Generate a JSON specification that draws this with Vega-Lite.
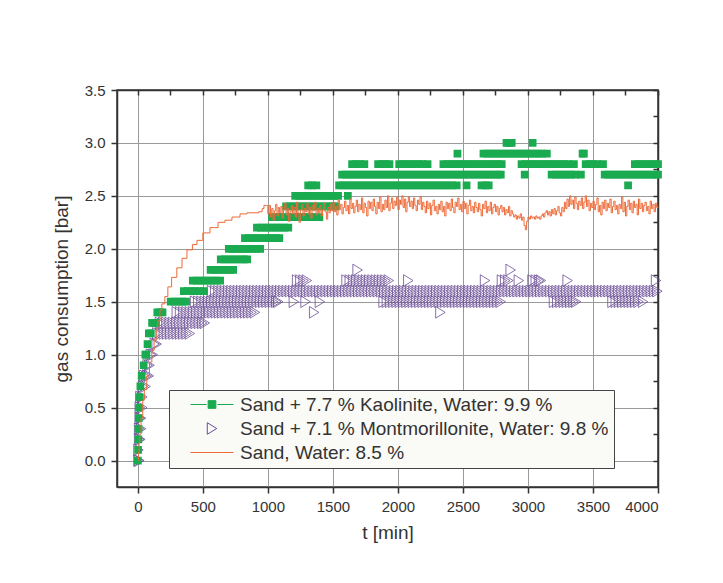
{
"$schema": "https://vega.github.io/schema/vega-lite/v6.json",
"width": 541, "height": 397,
"autosize": {"type": "none"},
"padding": {"left": 117, "top": 90, "right": 65, "bottom": 96},
"background": "white",
"config": {
  "font": "Liberation Sans",
  "view": {"stroke": "#333333", "strokeWidth": 1.5},
  "axis": {"labelFont": "Liberation Sans", "titleFont": "Liberation Sans", "labelColor": "#333333", "titleColor": "#333333", "titleFontWeight": "normal"}
},
"datasets": {
"K": [
{"t":0,"v":0},{"t":2,"v":0.1},{"t":4,"v":0.2},{"t":5,"v":0.3},{"t":7,"v":0.4},{"t":9,"v":0.5},{"t":13,"v":0.6},{"t":20,"v":0.7},{"t":30,"v":0.8},{"t":45,"v":0.9},{"t":58,"v":1.0},{"t":66,"v":1.0},{"t":75,"v":1.1},{"t":85,"v":1.2},{"t":100,"v":1.2},{"t":110,"v":1.3},{"t":125,"v":1.3},{"t":140,"v":1.3},{"t":150,"v":1.4},{"t":170,"v":1.4},{"t":190,"v":1.4},
{"t":253,"v":1.5},{"t":283,"v":1.5},{"t":313,"v":1.5},{"t":343,"v":1.5},{"t":371,"v":1.5},
{"t":354,"v":1.6},{"t":384,"v":1.6},{"t":414,"v":1.6},{"t":444,"v":1.6},{"t":474,"v":1.6},{"t":509,"v":1.6},
{"t":423,"v":1.7},{"t":453,"v":1.7},{"t":483,"v":1.7},{"t":513,"v":1.7},{"t":543,"v":1.7},{"t":573,"v":1.7},{"t":603,"v":1.7},{"t":633,"v":1.7},
{"t":560,"v":1.8},{"t":590,"v":1.8},{"t":620,"v":1.8},{"t":650,"v":1.8},{"t":680,"v":1.8},{"t":710,"v":1.8},{"t":733,"v":1.8},
{"t":638,"v":1.9},{"t":668,"v":1.9},{"t":698,"v":1.9},{"t":728,"v":1.9},{"t":758,"v":1.9},{"t":788,"v":1.9},{"t":818,"v":1.9},{"t":841,"v":1.9},
{"t":700,"v":2.0},{"t":730,"v":2.0},{"t":760,"v":2.0},{"t":790,"v":2.0},{"t":820,"v":2.0},{"t":850,"v":2.0},{"t":880,"v":2.0},{"t":910,"v":2.0},{"t":941,"v":2.0},
{"t":824,"v":2.1},{"t":854,"v":2.1},{"t":884,"v":2.1},{"t":914,"v":2.1},{"t":944,"v":2.1},{"t":974,"v":2.1},{"t":1004,"v":2.1},{"t":1034,"v":2.1},{"t":1064,"v":2.1},{"t":1088,"v":2.1},
{"t":916,"v":2.2},{"t":946,"v":2.2},{"t":976,"v":2.2},{"t":1006,"v":2.2},{"t":1036,"v":2.2},{"t":1066,"v":2.2},{"t":1096,"v":2.2},{"t":1126,"v":2.2},{"t":1157,"v":2.2},
{"t":1032,"v":2.3},{"t":1062,"v":2.3},{"t":1092,"v":2.3},{"t":1122,"v":2.3},{"t":1152,"v":2.3},{"t":1182,"v":2.3},{"t":1212,"v":2.3},{"t":1242,"v":2.3},{"t":1272,"v":2.3},{"t":1302,"v":2.3},{"t":1332,"v":2.3},{"t":1362,"v":2.3},{"t":1396,"v":2.3},
{"t":1140,"v":2.4},{"t":1170,"v":2.4},{"t":1200,"v":2.4},{"t":1230,"v":2.4},{"t":1260,"v":2.4},{"t":1290,"v":2.4},{"t":1320,"v":2.4},{"t":1350,"v":2.4},{"t":1380,"v":2.4},{"t":1410,"v":2.4},{"t":1440,"v":2.4},{"t":1470,"v":2.4},{"t":1500,"v":2.4},{"t":1520,"v":2.4},
{"t":1210,"v":2.5},{"t":1240,"v":2.5},{"t":1270,"v":2.5},{"t":1300,"v":2.5},{"t":1330,"v":2.5},{"t":1360,"v":2.5},{"t":1390,"v":2.5},{"t":1420,"v":2.5},{"t":1450,"v":2.5},{"t":1480,"v":2.5},{"t":1510,"v":2.5},{"t":1540,"v":2.5},{"t":1615,"v":2.5},
{"t":1310,"v":2.6},{"t":1340,"v":2.6},{"t":1373,"v":2.6},
{"t":1548,"v":2.6},{"t":1578,"v":2.6},{"t":1608,"v":2.6},{"t":1638,"v":2.6},{"t":1668,"v":2.6},{"t":1698,"v":2.6},{"t":1728,"v":2.6},{"t":1758,"v":2.6},{"t":1788,"v":2.6},{"t":1818,"v":2.6},{"t":1848,"v":2.6},{"t":1878,"v":2.6},{"t":1908,"v":2.6},{"t":1938,"v":2.6},{"t":1968,"v":2.6},{"t":1998,"v":2.6},{"t":2028,"v":2.6},{"t":2058,"v":2.6},{"t":2088,"v":2.6},{"t":2118,"v":2.6},{"t":2148,"v":2.6},{"t":2178,"v":2.6},{"t":2208,"v":2.6},{"t":2238,"v":2.6},{"t":2268,"v":2.6},{"t":2298,"v":2.6},{"t":2328,"v":2.6},{"t":2358,"v":2.6},{"t":2388,"v":2.6},{"t":2418,"v":2.6},{"t":2452,"v":2.6},
{"t":2528,"v":2.6},{"t":2643,"v":2.6},{"t":2673,"v":2.6},{"t":2698,"v":2.6},{"t":3770,"v":2.6},
{"t":1571,"v":2.7},{"t":1601,"v":2.7},{"t":1631,"v":2.7},{"t":1661,"v":2.7},{"t":1691,"v":2.7},{"t":1721,"v":2.7},{"t":1751,"v":2.7},{"t":1781,"v":2.7},{"t":1811,"v":2.7},{"t":1841,"v":2.7},{"t":1871,"v":2.7},{"t":1901,"v":2.7},{"t":1931,"v":2.7},{"t":1961,"v":2.7},{"t":1991,"v":2.7},{"t":2021,"v":2.7},{"t":2051,"v":2.7},{"t":2081,"v":2.7},{"t":2111,"v":2.7},{"t":2141,"v":2.7},{"t":2171,"v":2.7},{"t":2201,"v":2.7},{"t":2231,"v":2.7},{"t":2261,"v":2.7},{"t":2291,"v":2.7},{"t":2321,"v":2.7},{"t":2351,"v":2.7},{"t":2381,"v":2.7},{"t":2411,"v":2.7},{"t":2441,"v":2.7},{"t":2471,"v":2.7},{"t":2501,"v":2.7},{"t":2531,"v":2.7},{"t":2561,"v":2.7},{"t":2591,"v":2.7},{"t":2621,"v":2.7},{"t":2651,"v":2.7},{"t":2681,"v":2.7},{"t":2711,"v":2.7},{"t":2741,"v":2.7},{"t":2771,"v":2.7},{"t":2791,"v":2.7},
{"t":2975,"v":2.7},{"t":3182,"v":2.7},{"t":3212,"v":2.7},{"t":3242,"v":2.7},{"t":3272,"v":2.7},{"t":3302,"v":2.7},{"t":3332,"v":2.7},{"t":3362,"v":2.7},{"t":3407,"v":2.7},
{"t":3590,"v":2.7},{"t":3620,"v":2.7},{"t":3650,"v":2.7},{"t":3680,"v":2.7},{"t":3710,"v":2.7},{"t":3740,"v":2.7},{"t":3770,"v":2.7},{"t":3800,"v":2.7},{"t":3830,"v":2.7},{"t":3860,"v":2.7},{"t":3890,"v":2.7},{"t":3920,"v":2.7},{"t":3950,"v":2.7},{"t":3980,"v":2.7},{"t":4000,"v":2.7},
{"t":1648,"v":2.8},{"t":1678,"v":2.8},{"t":1708,"v":2.8},{"t":1742,"v":2.8},{"t":1848,"v":2.8},{"t":1878,"v":2.8},{"t":1908,"v":2.8},{"t":1935,"v":2.8},
{"t":2010,"v":2.8},{"t":2040,"v":2.8},{"t":2070,"v":2.8},{"t":2100,"v":2.8},{"t":2130,"v":2.8},{"t":2160,"v":2.8},{"t":2190,"v":2.8},{"t":2228,"v":2.8},
{"t":2350,"v":2.8},{"t":2380,"v":2.8},{"t":2410,"v":2.8},{"t":2440,"v":2.8},{"t":2470,"v":2.8},{"t":2500,"v":2.8},{"t":2530,"v":2.8},{"t":2560,"v":2.8},{"t":2590,"v":2.8},{"t":2620,"v":2.8},{"t":2650,"v":2.8},{"t":2680,"v":2.8},{"t":2710,"v":2.8},{"t":2740,"v":2.8},{"t":2770,"v":2.8},{"t":2798,"v":2.8},
{"t":2951,"v":2.8},{"t":2981,"v":2.8},{"t":3011,"v":2.8},{"t":3041,"v":2.8},{"t":3071,"v":2.8},{"t":3101,"v":2.8},{"t":3131,"v":2.8},{"t":3161,"v":2.8},{"t":3191,"v":2.8},{"t":3221,"v":2.8},{"t":3251,"v":2.8},{"t":3281,"v":2.8},{"t":3311,"v":2.8},{"t":3353,"v":2.8},
{"t":3444,"v":2.8},{"t":3474,"v":2.8},{"t":3504,"v":2.8},{"t":3534,"v":2.8},{"t":3577,"v":2.8},
{"t":3822,"v":2.8},{"t":3852,"v":2.8},{"t":3882,"v":2.8},{"t":3912,"v":2.8},{"t":3942,"v":2.8},{"t":3972,"v":2.8},{"t":4000,"v":2.8},
{"t":2458,"v":2.9},{"t":2658,"v":2.9},{"t":2688,"v":2.9},{"t":2718,"v":2.9},{"t":2748,"v":2.9},{"t":2778,"v":2.9},{"t":2808,"v":2.9},{"t":2838,"v":2.9},{"t":2868,"v":2.9},{"t":2898,"v":2.9},{"t":2928,"v":2.9},{"t":2958,"v":2.9},{"t":2988,"v":2.9},{"t":3018,"v":2.9},{"t":3048,"v":2.9},{"t":3078,"v":2.9},{"t":3108,"v":2.9},{"t":3145,"v":2.9},{"t":3420,"v":2.9},{"t":3430,"v":2.9},
{"t":2835,"v":3.0},{"t":2855,"v":3.0},{"t":2875,"v":3.0},{"t":3036,"v":3.0}
],
"M": [
{"t":5,"v":0},{"t":12,"v":0},{"t":5,"v":0.1},{"t":10,"v":0.2},{"t":20,"v":0.2},{"t":10,"v":0.3},{"t":25,"v":0.3},{"t":15,"v":0.4},{"t":25,"v":0.4},{"t":15,"v":0.5},{"t":35,"v":0.5},{"t":20,"v":0.6},{"t":35,"v":0.6},{"t":40,"v":0.7},{"t":60,"v":0.7},{"t":50,"v":0.8},{"t":70,"v":0.8},{"t":85,"v":0.8},{"t":75,"v":0.9},{"t":90,"v":0.9},{"t":100,"v":1.0},{"t":115,"v":1.0},{"t":130,"v":1.1},{"t":145,"v":1.1},
{"t":150,"v":1.2},{"t":175,"v":1.2},{"t":200,"v":1.2},{"t":225,"v":1.2},{"t":250,"v":1.2},{"t":275,"v":1.2},{"t":300,"v":1.2},{"t":325,"v":1.2},{"t":350,"v":1.2},{"t":375,"v":1.2},{"t":400,"v":1.2},
{"t":170,"v":1.3},{"t":195,"v":1.3},{"t":220,"v":1.3},{"t":245,"v":1.3},{"t":270,"v":1.3},{"t":295,"v":1.3},{"t":320,"v":1.3},{"t":345,"v":1.3},{"t":370,"v":1.3},{"t":395,"v":1.3},{"t":420,"v":1.3},{"t":445,"v":1.3},{"t":470,"v":1.3},{"t":495,"v":1.3},{"t":515,"v":1.3},
{"t":300,"v":1.4},{"t":325,"v":1.4},{"t":350,"v":1.4},{"t":375,"v":1.4},{"t":400,"v":1.4},{"t":425,"v":1.4},{"t":450,"v":1.4},{"t":475,"v":1.4},{"t":500,"v":1.4},{"t":525,"v":1.4},{"t":550,"v":1.4},{"t":575,"v":1.4},{"t":600,"v":1.4},{"t":625,"v":1.4},{"t":650,"v":1.4},{"t":675,"v":1.4},{"t":700,"v":1.4},{"t":725,"v":1.4},{"t":750,"v":1.4},{"t":775,"v":1.4},{"t":800,"v":1.4},{"t":825,"v":1.4},{"t":850,"v":1.4},{"t":875,"v":1.4},{"t":900,"v":1.4},{"t":1356,"v":1.4},{"t":2327,"v":1.4},
{"t":440,"v":1.5},{"t":465,"v":1.5},{"t":490,"v":1.5},{"t":515,"v":1.5},{"t":540,"v":1.5},{"t":565,"v":1.5},{"t":590,"v":1.5},{"t":615,"v":1.5},{"t":640,"v":1.5},{"t":665,"v":1.5},{"t":690,"v":1.5},{"t":715,"v":1.5},{"t":740,"v":1.5},{"t":765,"v":1.5},{"t":790,"v":1.5},{"t":815,"v":1.5},{"t":840,"v":1.5},{"t":865,"v":1.5},{"t":890,"v":1.5},{"t":915,"v":1.5},{"t":940,"v":1.5},{"t":965,"v":1.5},{"t":990,"v":1.5},{"t":1015,"v":1.5},{"t":1040,"v":1.5},{"t":1065,"v":1.5},{"t":1080,"v":1.5},
{"t":1200,"v":1.5},{"t":1290,"v":1.5},{"t":1400,"v":1.5},
{"t":1890,"v":1.5},{"t":1915,"v":1.5},{"t":1940,"v":1.5},{"t":1965,"v":1.5},{"t":1990,"v":1.5},{"t":2015,"v":1.5},{"t":2040,"v":1.5},{"t":2065,"v":1.5},{"t":2090,"v":1.5},{"t":2115,"v":1.5},{"t":2140,"v":1.5},{"t":2165,"v":1.5},{"t":2190,"v":1.5},{"t":2215,"v":1.5},{"t":2240,"v":1.5},{"t":2265,"v":1.5},{"t":2290,"v":1.5},{"t":2315,"v":1.5},{"t":2340,"v":1.5},{"t":2365,"v":1.5},{"t":2390,"v":1.5},{"t":2415,"v":1.5},{"t":2440,"v":1.5},{"t":2465,"v":1.5},{"t":2490,"v":1.5},{"t":2515,"v":1.5},{"t":2540,"v":1.5},{"t":2565,"v":1.5},{"t":2590,"v":1.5},{"t":2615,"v":1.5},{"t":2640,"v":1.5},{"t":2665,"v":1.5},{"t":2690,"v":1.5},{"t":2715,"v":1.5},{"t":2740,"v":1.5},{"t":2765,"v":1.5},{"t":2790,"v":1.5},
{"t":3200,"v":1.5},{"t":3225,"v":1.5},{"t":3250,"v":1.5},{"t":3275,"v":1.5},{"t":3300,"v":1.5},{"t":3325,"v":1.5},{"t":3350,"v":1.5},{"t":3370,"v":1.5},
{"t":3650,"v":1.5},{"t":3675,"v":1.5},{"t":3700,"v":1.5},{"t":3725,"v":1.5},{"t":3750,"v":1.5},{"t":3775,"v":1.5},{"t":3800,"v":1.5},{"t":3825,"v":1.5},{"t":3850,"v":1.5},{"t":3885,"v":1.5},
{"t":570,"v":1.6},{"t":595,"v":1.6},{"t":620,"v":1.6},{"t":645,"v":1.6},{"t":670,"v":1.6},{"t":695,"v":1.6},{"t":720,"v":1.6},{"t":745,"v":1.6},{"t":770,"v":1.6},{"t":795,"v":1.6},{"t":820,"v":1.6},{"t":845,"v":1.6},{"t":870,"v":1.6},{"t":895,"v":1.6},{"t":920,"v":1.6},{"t":945,"v":1.6},{"t":970,"v":1.6},{"t":995,"v":1.6},
{"t":1020,"v":1.6},{"t":1045,"v":1.6},{"t":1070,"v":1.6},{"t":1095,"v":1.6},{"t":1120,"v":1.6},{"t":1145,"v":1.6},{"t":1170,"v":1.6},{"t":1195,"v":1.6},{"t":1220,"v":1.6},{"t":1245,"v":1.6},{"t":1270,"v":1.6},{"t":1295,"v":1.6},{"t":1320,"v":1.6},{"t":1345,"v":1.6},{"t":1370,"v":1.6},{"t":1395,"v":1.6},{"t":1420,"v":1.6},{"t":1445,"v":1.6},{"t":1470,"v":1.6},{"t":1495,"v":1.6},
{"t":1520,"v":1.6},{"t":1545,"v":1.6},{"t":1570,"v":1.6},{"t":1595,"v":1.6},{"t":1620,"v":1.6},{"t":1645,"v":1.6},{"t":1670,"v":1.6},{"t":1695,"v":1.6},{"t":1720,"v":1.6},{"t":1745,"v":1.6},{"t":1770,"v":1.6},{"t":1795,"v":1.6},{"t":1820,"v":1.6},{"t":1845,"v":1.6},{"t":1870,"v":1.6},{"t":1895,"v":1.6},{"t":1920,"v":1.6},{"t":1945,"v":1.6},{"t":1970,"v":1.6},{"t":1995,"v":1.6},
{"t":2020,"v":1.6},{"t":2045,"v":1.6},{"t":2070,"v":1.6},{"t":2095,"v":1.6},{"t":2120,"v":1.6},{"t":2145,"v":1.6},{"t":2170,"v":1.6},{"t":2195,"v":1.6},{"t":2220,"v":1.6},{"t":2245,"v":1.6},{"t":2270,"v":1.6},{"t":2295,"v":1.6},{"t":2320,"v":1.6},{"t":2345,"v":1.6},{"t":2370,"v":1.6},{"t":2395,"v":1.6},{"t":2420,"v":1.6},{"t":2445,"v":1.6},{"t":2470,"v":1.6},{"t":2495,"v":1.6},
{"t":2520,"v":1.6},{"t":2545,"v":1.6},{"t":2570,"v":1.6},{"t":2595,"v":1.6},{"t":2620,"v":1.6},{"t":2645,"v":1.6},{"t":2670,"v":1.6},{"t":2695,"v":1.6},{"t":2720,"v":1.6},{"t":2745,"v":1.6},{"t":2770,"v":1.6},{"t":2795,"v":1.6},{"t":2820,"v":1.6},{"t":2845,"v":1.6},{"t":2870,"v":1.6},{"t":2895,"v":1.6},{"t":2920,"v":1.6},{"t":2945,"v":1.6},{"t":2970,"v":1.6},{"t":2995,"v":1.6},
{"t":3020,"v":1.6},{"t":3045,"v":1.6},{"t":3070,"v":1.6},{"t":3095,"v":1.6},{"t":3120,"v":1.6},{"t":3145,"v":1.6},{"t":3170,"v":1.6},{"t":3195,"v":1.6},{"t":3220,"v":1.6},{"t":3245,"v":1.6},{"t":3270,"v":1.6},{"t":3295,"v":1.6},{"t":3320,"v":1.6},{"t":3345,"v":1.6},{"t":3370,"v":1.6},{"t":3395,"v":1.6},{"t":3420,"v":1.6},{"t":3445,"v":1.6},{"t":3470,"v":1.6},{"t":3495,"v":1.6},
{"t":3520,"v":1.6},{"t":3545,"v":1.6},{"t":3570,"v":1.6},{"t":3595,"v":1.6},{"t":3620,"v":1.6},{"t":3645,"v":1.6},{"t":3670,"v":1.6},{"t":3695,"v":1.6},{"t":3720,"v":1.6},{"t":3745,"v":1.6},{"t":3770,"v":1.6},{"t":3795,"v":1.6},{"t":3820,"v":1.6},{"t":3845,"v":1.6},{"t":3870,"v":1.6},{"t":3895,"v":1.6},{"t":3920,"v":1.6},{"t":3945,"v":1.6},{"t":3970,"v":1.6},{"t":3995,"v":1.6},
{"t":1225,"v":1.7},{"t":1250,"v":1.7},{"t":1275,"v":1.7},{"t":1300,"v":1.7},
{"t":1605,"v":1.7},{"t":1630,"v":1.7},{"t":1655,"v":1.7},{"t":1680,"v":1.7},{"t":1705,"v":1.7},{"t":1730,"v":1.7},{"t":1755,"v":1.7},{"t":1780,"v":1.7},{"t":1805,"v":1.7},{"t":1830,"v":1.7},{"t":1855,"v":1.7},{"t":1880,"v":1.7},{"t":1905,"v":1.7},{"t":1930,"v":1.7},
{"t":2080,"v":1.7},{"t":2670,"v":1.7},{"t":2800,"v":1.7},{"t":2825,"v":1.7},{"t":2850,"v":1.7},{"t":2930,"v":1.7},{"t":3035,"v":1.7},{"t":3060,"v":1.7},{"t":3085,"v":1.7},{"t":3100,"v":1.7},{"t":3305,"v":1.7},{"t":3985,"v":1.7},
{"t":1690,"v":1.8},{"t":2867,"v":1.8}
],
"S": [
{"t":0,"v":0},{"t":5,"v":0.08},{"t":10,"v":0.17},{"t":15,"v":0.25},{"t":25,"v":0.4},{"t":38,"v":0.57},{"t":50,"v":0.67},{"t":69,"v":0.8},{"t":90,"v":0.93},{"t":108,"v":1.04},{"t":125,"v":1.14},{"t":146,"v":1.24},{"t":154,"v":1.32},{"t":170,"v":1.42},{"t":185,"v":1.48},{"t":208,"v":1.55},{"t":231,"v":1.64},{"t":260,"v":1.73},{"t":300,"v":1.82},{"t":340,"v":1.91},{"t":378,"v":1.99},{"t":420,"v":2.04},{"t":455,"v":2.08},{"t":500,"v":2.15},{"t":555,"v":2.2},{"t":617,"v":2.25},{"t":670,"v":2.27},{"t":724,"v":2.3},{"t":786,"v":2.33},{"t":840,"v":2.34},{"t":886,"v":2.34},{"t":930,"v":2.35},{"t":956,"v":2.38},{"t":970,"v":2.41},{"t":990,"v":2.41},
{"t":1000,"v":2.33},{"t":1010,"v":2.41},{"t":1020,"v":2.30},{"t":1030,"v":2.38},{"t":1040,"v":2.27},{"t":1050,"v":2.36},{"t":1060,"v":2.42},{"t":1070,"v":2.31},{"t":1080,"v":2.39},{"t":1090,"v":2.34},
{"t":1100,"v":2.40},{"t":1110,"v":2.29},{"t":1120,"v":2.37},{"t":1130,"v":2.43},{"t":1140,"v":2.32},{"t":1150,"v":2.38},{"t":1160,"v":2.26},{"t":1170,"v":2.35},{"t":1180,"v":2.41},{"t":1190,"v":2.33},
{"t":1200,"v":2.39},{"t":1210,"v":2.30},{"t":1220,"v":2.44},{"t":1230,"v":2.34},{"t":1240,"v":2.25},{"t":1250,"v":2.37},{"t":1260,"v":2.42},{"t":1270,"v":2.31},{"t":1280,"v":2.38},{"t":1290,"v":2.35},
{"t":1300,"v":2.43},{"t":1310,"v":2.33},{"t":1320,"v":2.39},{"t":1330,"v":2.29},{"t":1340,"v":2.41},{"t":1350,"v":2.36},{"t":1360,"v":2.44},{"t":1370,"v":2.32},{"t":1380,"v":2.38},{"t":1390,"v":2.34},
{"t":1400,"v":2.41},{"t":1410,"v":2.31},{"t":1420,"v":2.37},{"t":1430,"v":2.43},{"t":1440,"v":2.35},{"t":1450,"v":2.28},{"t":1460,"v":2.39},{"t":1470,"v":2.34},{"t":1480,"v":2.42},{"t":1490,"v":2.36},
{"t":1500,"v":2.44},{"t":1510,"v":2.35},{"t":1520,"v":2.40},{"t":1530,"v":2.32},{"t":1540,"v":2.46},{"t":1550,"v":2.37},{"t":1560,"v":2.42},{"t":1570,"v":2.33},{"t":1580,"v":2.39},{"t":1590,"v":2.45},
{"t":1600,"v":2.36},{"t":1610,"v":2.41},{"t":1620,"v":2.33},{"t":1630,"v":2.47},{"t":1640,"v":2.38},{"t":1650,"v":2.43},{"t":1660,"v":2.34},{"t":1670,"v":2.40},{"t":1680,"v":2.46},{"t":1690,"v":2.35},
{"t":1700,"v":2.42},{"t":1710,"v":2.37},{"t":1720,"v":2.48},{"t":1730,"v":2.34},{"t":1740,"v":2.43},{"t":1750,"v":2.39},{"t":1760,"v":2.31},{"t":1770,"v":2.45},{"t":1780,"v":2.38},{"t":1790,"v":2.44},
{"t":1800,"v":2.36},{"t":1810,"v":2.47},{"t":1820,"v":2.40},{"t":1830,"v":2.33},{"t":1840,"v":2.44},{"t":1850,"v":2.38},{"t":1860,"v":2.49},{"t":1870,"v":2.35},{"t":1880,"v":2.42},{"t":1890,"v":2.37},
{"t":1900,"v":2.46},{"t":1910,"v":2.39},{"t":1920,"v":2.50},{"t":1930,"v":2.36},{"t":1940,"v":2.43},{"t":1950,"v":2.48},{"t":1960,"v":2.38},{"t":1970,"v":2.45},{"t":1980,"v":2.41},{"t":1990,"v":2.49},
{"t":2000,"v":2.37},{"t":2010,"v":2.46},{"t":2020,"v":2.42},{"t":2030,"v":2.50},{"t":2040,"v":2.39},{"t":2050,"v":2.47},{"t":2060,"v":2.35},{"t":2070,"v":2.44},{"t":2080,"v":2.49},{"t":2090,"v":2.40},
{"t":2100,"v":2.45},{"t":2110,"v":2.38},{"t":2120,"v":2.48},{"t":2130,"v":2.41},{"t":2140,"v":2.36},{"t":2150,"v":2.46},{"t":2160,"v":2.42},{"t":2170,"v":2.49},{"t":2180,"v":2.37},{"t":2190,"v":2.44},
{"t":2200,"v":2.40},{"t":2210,"v":2.34},{"t":2220,"v":2.45},{"t":2230,"v":2.38},{"t":2240,"v":2.43},{"t":2250,"v":2.32},{"t":2260,"v":2.41},{"t":2270,"v":2.46},{"t":2280,"v":2.36},{"t":2290,"v":2.40},
{"t":2300,"v":2.33},{"t":2310,"v":2.42},{"t":2320,"v":2.37},{"t":2330,"v":2.45},{"t":2340,"v":2.35},{"t":2350,"v":2.40},{"t":2360,"v":2.31},{"t":2370,"v":2.44},{"t":2380,"v":2.38},{"t":2390,"v":2.43},
{"t":2400,"v":2.36},{"t":2410,"v":2.47},{"t":2420,"v":2.39},{"t":2430,"v":2.34},{"t":2440,"v":2.44},{"t":2450,"v":2.40},{"t":2460,"v":2.48},{"t":2470,"v":2.37},{"t":2480,"v":2.42},{"t":2490,"v":2.35},
{"t":2500,"v":2.45},{"t":2510,"v":2.38},{"t":2520,"v":2.43},{"t":2530,"v":2.33},{"t":2540,"v":2.41},{"t":2550,"v":2.46},{"t":2560,"v":2.36},{"t":2570,"v":2.40},{"t":2580,"v":2.34},{"t":2590,"v":2.44},
{"t":2600,"v":2.39},{"t":2610,"v":2.35},{"t":2620,"v":2.43},{"t":2630,"v":2.37},{"t":2640,"v":2.31},{"t":2650,"v":2.42},{"t":2660,"v":2.38},{"t":2670,"v":2.45},{"t":2680,"v":2.34},{"t":2690,"v":2.40},
{"t":2700,"v":2.36},{"t":2710,"v":2.44},{"t":2720,"v":2.33},{"t":2730,"v":2.39},{"t":2740,"v":2.42},{"t":2750,"v":2.35},{"t":2760,"v":2.40},{"t":2770,"v":2.32},{"t":2780,"v":2.38},{"t":2790,"v":2.41},
{"t":2800,"v":2.35},{"t":2810,"v":2.39},{"t":2820,"v":2.32},{"t":2830,"v":2.37},{"t":2840,"v":2.34},{"t":2850,"v":2.40},{"t":2860,"v":2.31},{"t":2870,"v":2.36},{"t":2880,"v":2.33},{"t":2890,"v":2.30},
{"t":2900,"v":2.32},{"t":2910,"v":2.28},{"t":2920,"v":2.31},{"t":2930,"v":2.29},{"t":2940,"v":2.33},{"t":2950,"v":2.27},{"t":2960,"v":2.30},{"t":2970,"v":2.22},{"t":2980,"v":2.18},{"t":2990,"v":2.26},
{"t":3000,"v":2.30},{"t":3010,"v":2.28},{"t":3020,"v":2.31},{"t":3030,"v":2.29},{"t":3040,"v":2.30},{"t":3050,"v":2.28},{"t":3060,"v":2.31},{"t":3070,"v":2.29},{"t":3080,"v":2.30},{"t":3090,"v":2.28},
{"t":3100,"v":2.31},{"t":3110,"v":2.33},{"t":3120,"v":2.30},{"t":3130,"v":2.34},{"t":3140,"v":2.36},{"t":3150,"v":2.32},{"t":3160,"v":2.35},{"t":3170,"v":2.31},{"t":3180,"v":2.37},{"t":3190,"v":2.33},
{"t":3200,"v":2.38},{"t":3210,"v":2.32},{"t":3220,"v":2.36},{"t":3230,"v":2.40},{"t":3240,"v":2.34},{"t":3250,"v":2.31},{"t":3260,"v":2.39},{"t":3270,"v":2.35},{"t":3280,"v":2.44},{"t":3290,"v":2.38},
{"t":3300,"v":2.47},{"t":3310,"v":2.40},{"t":3320,"v":2.50},{"t":3330,"v":2.42},{"t":3340,"v":2.46},{"t":3350,"v":2.38},{"t":3360,"v":2.49},{"t":3370,"v":2.43},{"t":3380,"v":2.37},{"t":3390,"v":2.45},
{"t":3400,"v":2.41},{"t":3410,"v":2.48},{"t":3420,"v":2.38},{"t":3430,"v":2.44},{"t":3440,"v":2.50},{"t":3450,"v":2.40},{"t":3460,"v":2.46},{"t":3470,"v":2.36},{"t":3480,"v":2.43},{"t":3490,"v":2.39},
{"t":3500,"v":2.45},{"t":3510,"v":2.37},{"t":3520,"v":2.42},{"t":3530,"v":2.48},{"t":3540,"v":2.35},{"t":3550,"v":2.41},{"t":3560,"v":2.32},{"t":3570,"v":2.44},{"t":3580,"v":2.38},{"t":3590,"v":2.46},
{"t":3600,"v":2.36},{"t":3610,"v":2.43},{"t":3620,"v":2.39},{"t":3630,"v":2.47},{"t":3640,"v":2.34},{"t":3650,"v":2.40},{"t":3660,"v":2.45},{"t":3670,"v":2.37},{"t":3680,"v":2.41},{"t":3690,"v":2.33},
{"t":3700,"v":2.42},{"t":3710,"v":2.38},{"t":3720,"v":2.49},{"t":3730,"v":2.35},{"t":3740,"v":2.44},{"t":3750,"v":2.31},{"t":3760,"v":2.40},{"t":3770,"v":2.46},{"t":3780,"v":2.37},{"t":3790,"v":2.43},
{"t":3800,"v":2.34},{"t":3810,"v":2.45},{"t":3820,"v":2.39},{"t":3830,"v":2.42},{"t":3840,"v":2.32},{"t":3850,"v":2.47},{"t":3860,"v":2.38},{"t":3870,"v":2.43},{"t":3880,"v":2.35},{"t":3890,"v":2.41},
{"t":3900,"v":2.44},{"t":3910,"v":2.36},{"t":3920,"v":2.40},{"t":3930,"v":2.33},{"t":3940,"v":2.45},{"t":3950,"v":2.38},{"t":3960,"v":2.42},{"t":3970,"v":2.35},{"t":3980,"v":2.43},{"t":3990,"v":2.39},{"t":4000,"v":2.40}
]
},
"layer": [
  {
    "layer": [
      {
        "data": {"name": "M"},
        "mark": {"type": "point", "filled": false, "size": 1850, "opacity": 1, "strokeWidth": 0.8},
        "encoding": {
          "x": {"field": "t", "type": "quantitative",
            "scale": {"domain": [-160, 4000], "nice": false, "zero": false},
            "axis": {
              "values": [0,250,500,750,1000,1250,1500,1750,2000,2250,2500,2750,3000,3250,3500,3750,4000],
              "format": "d",
              "labelExpr": "datum.value % 500 === 0 ? datum.label : ''",
              "grid": true,
              "gridColor": {"condition": {"test": "datum.value % 500 === 0", "value": "#9a9a9a"}, "value": "#d6cec6"},
              "gridDash": {"condition": {"test": "datum.value % 500 === 0", "value": []}, "value": [6, 3]},
              "gridWidth": 1,
              "domainColor": "#333333", "domainWidth": 1.5,
              "tickColor": "#333333", "tickWidth": 1.5, "tickSize": 6,
              "labelFontSize": 15, "labelPadding": 6,
              "title": "t [min]", "titleFontSize": 19, "titlePadding": 9
            }},
          "y": {"field": "v", "type": "quantitative",
            "scale": {"domain": [-0.25, 3.5], "nice": false, "zero": false},
            "axis": {
              "values": [0,0.25,0.5,0.75,1,1.25,1.5,1.75,2,2.25,2.5,2.75,3,3.25,3.5],
              "format": ".1f",
              "labelExpr": "abs(datum.value * 2 - round(datum.value * 2)) < 0.001 ? datum.label : ''",
              "grid": true,
              "gridColor": {"condition": {"test": "abs(datum.value * 2 - round(datum.value * 2)) < 0.001", "value": "#9a9a9a"}, "value": "#d6cec6"},
              "gridDash": {"condition": {"test": "abs(datum.value * 2 - round(datum.value * 2)) < 0.001", "value": []}, "value": [6, 3]},
              "gridWidth": 1,
              "domainColor": "#333333", "domainWidth": 1.5,
              "tickColor": "#333333", "tickWidth": 1.5, "tickSize": 6,
              "labelFontSize": 15, "labelPadding": 6,
              "title": "gas consumption [bar]", "titleFontSize": 19, "titlePadding": 13
            }},
          "color": {"datum": "Sand + 7.1 % Montmorillonite, Water: 9.8 %", "type": "nominal",
            "scale": {"domain": ["Sand + 7.7 % Kaolinite, Water: 9.9 %", "Sand + 7.1 % Montmorillonite, Water: 9.8 %", "Sand, Water: 8.5 %"], "range": ["#1aaa50", "#6b4c96", "#ee6a38"]},
            "legend": {
              "orient": "none", "legendX": 52, "legendY": 300, "title": null,
              "padding": 5, "rowPadding": 4, "symbolOffset": 15.5, "labelOffset": 5.5, "clipHeight": 19,
              "symbolSize": 1850, "symbolStrokeWidth": 1, "symbolOpacity": 1, "symbolFillColor": "transparent",
              "labelFontSize": 19, "labelFont": "Liberation Sans", "labelColor": "#333333", "labelLimit": 600,
              "fillColor": "#fafaf7", "strokeColor": "#444444"
            }},
          "fill": {"datum": "Sand + 7.1 % Montmorillonite, Water: 9.8 %", "type": "nominal",
            "scale": {"domain": ["Sand + 7.7 % Kaolinite, Water: 9.9 %", "Sand + 7.1 % Montmorillonite, Water: 9.8 %", "Sand, Water: 8.5 %"], "range": ["#1aaa50", "transparent", "transparent"]}},
          "shape": {"datum": "Sand + 7.1 % Montmorillonite, Water: 9.8 %", "type": "nominal",
            "scale": {"domain": ["Sand + 7.7 % Kaolinite, Water: 9.9 %", "Sand + 7.1 % Montmorillonite, Water: 9.8 %", "Sand, Water: 8.5 %"], "range": ["M-1,0H-0.25M0.25,0H1M-0.18,-0.18H0.18V0.18H-0.18Z", "M0.22,0L-0.22,-0.27L-0.22,0.27Z", "stroke"]}}
        }
      },
      {
        "data": {"name": "K"},
        "mark": {"type": "point", "filled": false, "size": 1850, "opacity": 1, "strokeWidth": 0},
        "encoding": {
          "x": {"field": "t", "type": "quantitative"},
          "y": {"field": "v", "type": "quantitative"},
          "color": {"datum": "Sand + 7.7 % Kaolinite, Water: 9.9 %", "type": "nominal"},
          "fill": {"datum": "Sand + 7.7 % Kaolinite, Water: 9.9 %", "type": "nominal"},
          "shape": {"datum": "Sand + 7.7 % Kaolinite, Water: 9.9 %", "type": "nominal"}
        }
      }
    ]
  },
  {
    "data": {"name": "S"},
    "mark": {"type": "line", "interpolate": "step-after", "strokeWidth": 1},
    "encoding": {
      "x": {"field": "t", "type": "quantitative",
        "axis": {"orient": "top", "values": [0,250,500,750,1000,1250,1500,1750,2000,2250,2500,2750,3000,3250,3500,3750,4000],
          "labels": false, "title": null, "grid": false, "domainColor": "#333333", "domainWidth": 1.5,
          "tickColor": "#333333", "tickWidth": 1.5, "tickSize": -5}},
      "y": {"field": "v", "type": "quantitative",
        "axis": {"orient": "right", "values": [0,0.25,0.5,0.75,1,1.25,1.5,1.75,2,2.25,2.5,2.75,3,3.25,3.5],
          "labels": false, "title": null, "grid": false, "domainColor": "#333333", "domainWidth": 1.5,
          "tickColor": "#333333", "tickWidth": 1.5, "tickSize": -5}},
      "color": {"datum": "Sand, Water: 8.5 %", "type": "nominal"}
    }
  }
],
"resolve": {"axis": {"x": "independent", "y": "independent"}}
}
